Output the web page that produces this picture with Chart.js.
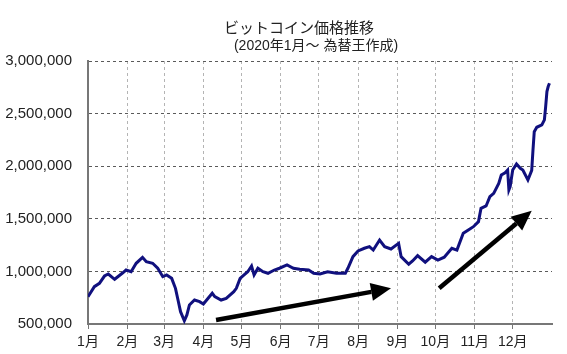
<!DOCTYPE html>
<html>
<head>
<meta charset="utf-8">
<script src="https://cdn.jsdelivr.net/npm/chart.js@4.4.0/dist/chart.umd.min.js"></script>
<style>
  html, body { margin: 0; padding: 0; background: #fff; }
  #wrap { width: 567px; height: 354px; }
</style>
</head>
<body>
<div id="wrap"><canvas id="btcChart"></canvas></div>
<script>
// day offset from 2020-01-01, and price in yen
const days = [
  0, 5, 9, 13, 16, 21, 27, 30, 34, 38, 43, 46, 51, 55, 59, 62, 66, 69, 71, 73,
  76, 78, 80, 84, 88, 91, 98, 100, 105, 109, 115, 117, 120, 122, 126, 129, 131, 134, 138, 142,
  147, 151, 157, 162, 167, 174, 178, 183, 189, 196, 203, 205, 209, 213, 218, 222, 225, 230, 234, 239,
  245, 247, 253, 256, 260, 266, 271, 276, 281, 287, 291, 296, 300, 304, 308, 310, 314, 317, 320, 324,
  326, 329, 331, 332, 333, 335, 338, 341, 343, 347, 350, 351, 352, 354, 358, 360, 361, 362, 363, 364
];
const prices = [
  759000, 855000, 887000, 956000, 975000, 925000, 982000, 1013000, 997000, 1077000,
  1134000, 1092000, 1077000, 1030000, 950000, 966000, 934000, 839000, 728000, 617000,
  531000, 586000, 681000, 728000, 712000, 690000, 792000, 760000, 728000, 744000,
  807000, 839000, 934000, 956000, 997000, 1051000, 966000, 1030000, 997000, 982000,
  1013000, 1030000, 1061000, 1030000, 1020000, 1013000, 982000, 975000, 997000, 982000,
  982000, 1030000, 1140000, 1194000, 1220000, 1235000, 1203000, 1298000, 1235000, 1213000,
  1267000, 1140000, 1068000, 1099000, 1150000, 1087000, 1140000, 1108000, 1135000, 1220000,
  1203000, 1362000, 1394000, 1425000, 1473000, 1600000, 1622000, 1710000, 1742000, 1837000,
  1916000, 1938000, 1964000, 1774000, 1805000, 1964000, 2021000, 1980000, 1964000, 1869000,
  1960000, 2154000, 2328000, 2370000, 2392000, 2440000, 2566000, 2709000, 2757000, 2788000
];
const monthStarts = [0, 31, 60, 91, 121, 152, 182, 213, 244, 274, 305, 335];
const monthLabels = ['1月', '2月', '3月', '4月', '5月', '6月', '7月', '8月', '9月', '10月', '11月', '12月'];

// trend arrows, [day, price] from -> to
const arrows = [
  { from: [101, 538000], to: [239, 839000] },
  { from: [277, 839000], to: [350, 1577000] },
];

const headerPlugin = {
  id: 'header',
  afterDraw(chart) {
    const ctx = chart.ctx;
    ctx.save();
    ctx.fillStyle = '#222';
    ctx.textAlign = 'center';
    ctx.textBaseline = 'middle';
    ctx.font = '15px "Noto Sans CJK JP"';
    ctx.fillText('ビットコイン価格推移', 299, 27);
    ctx.font = '14px "Liberation Sans", "Noto Sans CJK JP"';
    ctx.fillText('(2020年1月～ 為替王作成)', 316, 46);
    ctx.restore();
  }
};

const arrowPlugin = {
  id: 'arrows',
  afterDatasetsDraw(chart) {
    const { ctx, scales: { x, y } } = chart;
    ctx.save();
    ctx.strokeStyle = '#000';
    ctx.fillStyle = '#000';
    ctx.lineWidth = 4.5;
    arrows.forEach(function (a) {
      const x1 = x.getPixelForValue(a.from[0]);
      const y1 = y.getPixelForValue(a.from[1]);
      const x2 = x.getPixelForValue(a.to[0]);
      const y2 = y.getPixelForValue(a.to[1]);
      const ang = Math.atan2(y2 - y1, x2 - x1);
      const headLen = 20, headW = 9;
      const bx = x2 - headLen * Math.cos(ang);
      const by = y2 - headLen * Math.sin(ang);
      ctx.beginPath();
      ctx.moveTo(x1, y1);
      ctx.lineTo(bx, by);
      ctx.stroke();
      ctx.beginPath();
      ctx.moveTo(x2, y2);
      ctx.lineTo(bx + headW * Math.sin(ang), by - headW * Math.cos(ang));
      ctx.lineTo(bx - headW * Math.sin(ang), by + headW * Math.cos(ang));
      ctx.closePath();
      ctx.fill();
    });
    ctx.restore();
  }
};

new Chart(document.getElementById('btcChart'), {
  type: 'line',
  data: {
    datasets: [{
      data: days.map((d, i) => ({ x: d, y: prices[i] })),
      borderColor: '#10107e',
      borderWidth: 3,
      pointRadius: 0,
      tension: 0,
    }],
  },
  options: {
    responsive: true,
    maintainAspectRatio: false,
    animation: false,
    layout: { padding: { top: 61, right: 15, left: 0, bottom: 0 } },
    plugins: {
      legend: { display: false },
      tooltip: { enabled: false },
    },
    scales: {
      x: {
        type: 'linear',
        min: 0,
        max: 366,
        afterBuildTicks: function (scale) {
          scale.ticks = monthStarts.map(v => ({ value: v }));
        },
        afterFit: function (scale) { scale.height = 30; },
        ticks: {
          autoSkip: false,
          maxRotation: 0,
          padding: 5,
          color: '#222',
          font: { family: '"Liberation Sans", "Noto Sans CJK JP"', size: 14 },
          callback: function (value, index) { return monthLabels[index]; },
        },
        grid: {
          color: '#b4b4b4',
          lineWidth: 1,
          tickColor: '#777',
          tickLength: 5,
        },
        border: { color: '#777', width: 2, dash: [3, 3] },
      },
      y: {
        min: 500000,
        max: 3000000,
        afterFit: function (scale) { scale.width = 88; },
        ticks: {
          stepSize: 500000,
          padding: 16,
          color: '#222',
          font: { family: '"Liberation Sans"', size: 15 },
          callback: function (value) { return value.toLocaleString('en-US'); },
        },
        grid: {
          color: '#5a5a5a',
          lineWidth: 1,
          drawTicks: false,
        },
        border: { color: '#777', width: 2, dash: [3, 3] },
      },
    },
  },
  plugins: [headerPlugin, arrowPlugin],
});
</script>
</body>
</html>
